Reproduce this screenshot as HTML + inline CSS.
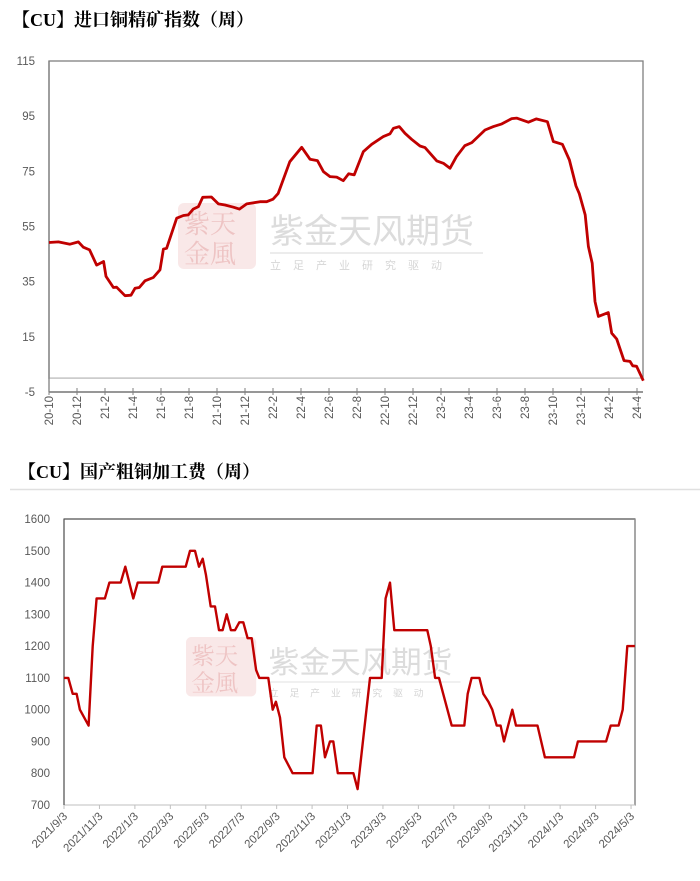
<!DOCTYPE html>
<html><head><meta charset="utf-8">
<style>
body{margin:0;background:#fff;width:700px;height:881px;overflow:hidden;}
svg{display:block;font-family:"Liberation Sans","Noto Sans CJK SC",sans-serif;}
.title{font-family:"Liberation Serif","Noto Serif CJK SC",serif;font-weight:bold;font-size:18px;fill:#000;}
.tick{font-size:11.5px;fill:#595959;}
</style></head>
<body>
<svg id="svg" width="700" height="881" viewBox="0 0 700 881">
  <text class="title" x="12" y="26">【CU】进口铜精矿指数（周）</text>
  <text class="title" x="18" y="478">【CU】国产粗铜加工费（周）</text>
  <line x1="10" y1="489.5" x2="700" y2="489.5" stroke="#e0e0e0" stroke-width="1.5"/>
  <g id="c1"></g>
  <g id="c2"></g>
</svg>
<script>
// Chart 1: imported copper concentrate index (x in months from 2020-10)
const c1Months=[0,0.67,1.5,2.1,2.45,2.9,3.4,3.9,4.07,4.6,4.83,5.43,5.86,6.14,6.45,6.86,7.45,7.93,8.17,8.4,9.12,9.6,9.95,10.3,10.67,10.98,11.6,12.1,12.57,13.17,13.6,14.12,15.07,15.55,16,16.37,17.2,18.05,18.64,19.17,19.6,20.07,20.55,21.02,21.4,21.8,22.45,23.05,23.88,24.36,24.6,25.02,25.43,25.9,26.5,26.86,27.7,28.17,28.64,29.1,29.7,30.2,31.14,31.74,32.34,33.05,33.4,34.24,34.8,35.6,36.02,36.67,37.17,37.64,37.88,38.3,38.53,38.8,39,39.24,39.95,40.19,40.55,41.07,41.5,41.69,41.97,42.45];
const c1Values=[49.2,49.4,48.6,49.4,47.5,46.5,41,42.3,36.9,32.9,33,29.9,30.1,32.6,32.9,35.3,36.5,39.3,46.8,47.1,58,59,59.2,61.3,62.2,65.6,65.7,63.2,62.8,62,61.3,63.2,64,64,64.9,67,78.5,83.7,79.4,78.9,74.9,73.1,72.9,71.6,74.1,73.7,82.1,84.8,87.6,88.6,90.6,91.2,88.8,86.6,84.2,83.6,78.8,77.9,76.1,80.3,84.3,85.4,90,91.2,92.2,94.1,94.3,92.8,94,93,85.8,84.8,79.1,69.7,66.9,59.2,47.7,41.7,27.8,22.4,23.8,16.3,14.2,6.4,6.1,4.5,4.3,-0.9];
const c1YTicks=[115,95,75,55,35,15,-5];
const c1XTicks=["20-10","20-12","21-2","21-4","21-6","21-8","21-10","21-12","22-2","22-4","22-6","22-8","22-10","22-12","23-2","23-4","23-6","23-8","23-10","23-12","24-2","24-4"];

// Chart 2: domestic blister copper processing fee (x in months from 2021/9/3)
const c2Months=[0,0.24,0.49,0.71,0.9,1.39,1.62,1.84,2.31,2.56,3.2,3.46,3.91,4.16,5.32,5.55,6.87,7.11,7.39,7.62,7.83,8.01,8.28,8.52,8.75,8.95,9.18,9.42,9.65,9.89,10.12,10.36,10.59,10.84,11.02,11.53,11.78,11.96,12.19,12.43,12.9,14.03,14.26,14.5,14.73,15.01,15.2,15.45,16.33,16.57,17.27,17.93,18.15,18.4,18.64,20.5,20.7,20.94,21.16,21.4,21.88,22.59,22.78,23.0,23.44,23.66,23.95,24.17,24.42,24.64,24.83,25.3,25.51,26.72,27.14,28.78,29.0,30.59,30.85,31.3,31.53,31.79,32.22];
const c2Values=[1100,1100,1050,1050,1000,950,1200,1350,1350,1400,1400,1450,1350,1400,1400,1450,1450,1500,1500,1450,1475,1425,1325,1325,1250,1250,1300,1250,1250,1275,1275,1225,1225,1125,1100,1100,1000,1025,975,850,800,800,950,950,850,900,900,800,800,750,1100,1100,1350,1400,1250,1250,1200,1100,1100,1050,950,950,1050,1100,1100,1050,1025,1000,950,950,900,1000,950,950,850,850,900,900,950,950,1000,1200,1200];
const c2YTicks=[1600,1500,1400,1300,1200,1100,1000,900,800,700];
const c2XTicks=["2021/9/3","2021/11/3","2022/1/3","2022/3/3","2022/5/3","2022/7/3","2022/9/3","2022/11/3","2023/1/3","2023/3/3","2023/5/3","2023/7/3","2023/9/3","2023/11/3","2024/1/3","2024/3/3","2024/5/3"];

const NS="http://www.w3.org/2000/svg";
function mk(parent,tag,attrs){const e=document.createElementNS(NS,tag);for(const k in attrs)e.setAttribute(k,attrs[k]);parent.appendChild(e);return e;}

function watermark(g,x,y,s){
  const w=document.createElementNS(NS,'g');
  
  
  w.setAttribute('transform',`translate(${x},${y}) scale(${s})`);
  g.appendChild(w);
  mk(w,'rect',{x:0,y:0,width:78,height:66,rx:6,fill:'#f7dede',opacity:0.7});
  const t1=mk(w,'text',{x:6,y:30,'font-size':26,fill:'#eec4c4','font-family':'"Noto Serif CJK SC",serif'});t1.textContent='紫天';
  const t2=mk(w,'text',{x:6,y:60,'font-size':26,fill:'#eec4c4','font-family':'"Noto Serif CJK SC",serif'});t2.textContent='金風';
  const t3=mk(w,'text',{x:92,y:40,'font-size':34,fill:'#dcdcdc'});t3.textContent='紫金天风期货';
  mk(w,'line',{x1:92,y1:50,x2:305,y2:50,stroke:'#e6e6e6','stroke-width':1.5});
  const t4=mk(w,'text',{x:92,y:66,'font-size':11,fill:'#d6d6d6','letter-spacing':'12'});t4.textContent='立足产业研究驱动';
}

// ---- Chart 1
(function(){
  const g=document.getElementById('c1');
  const L=49,R=643,T=61,yMin=-5,yMax=115,B=392;
  const ys=v=>T+(yMax-v)*(B-T)/(yMax-yMin);
  const xs=m=>L+m*14;
  watermark(g,178,203,1);
  mk(g,'rect',{x:L,y:T,width:R-L,height:ys(0)-T,fill:'none',stroke:'#7f7f7f','stroke-width':1.3});
  mk(g,'line',{x1:L,y1:ys(0),x2:R,y2:ys(0),stroke:'#d9d9d9','stroke-width':1});
  mk(g,'line',{x1:L,y1:B,x2:R,y2:B,stroke:'#595959','stroke-width':1.3});
  mk(g,'line',{x1:L,y1:T,x2:L,y2:B,stroke:'#7f7f7f','stroke-width':1.3});
  c1YTicks.forEach(v=>{
    const t=mk(g,'text',{x:35,y:ys(v)+4,'text-anchor':'end',class:'tick'});
    
    
    t.textContent=v;
  });
  c1XTicks.forEach((lab,i)=>{
    const x=xs(i*2);
    mk(g,'line',{x1:x,y1:B-4,x2:x,y2:B+3,stroke:'#7f7f7f'});
    const t=mk(g,'text',{x:0,y:0,'text-anchor':'end',class:'tick',transform:`translate(${x+4},${B+4}) rotate(-90)`});
    
    
    t.textContent=lab;
  });
  const d=c1Months.map((m,i)=>(i?'L':'M')+xs(m).toFixed(1)+','+ys(c1Values[i]).toFixed(1)).join(' ');
  const p=mk(g,'path',{d,fill:'none',stroke:'#c00000','stroke-width':2.8,'stroke-linejoin':'round'});
  
  
})();

// ---- Chart 2
(function(){
  const g=document.getElementById('c2');
  const L=64,R=635,T=519,B=805,yMin=700,yMax=1600;
  const ys=v=>T+(yMax-v)*(B-T)/(yMax-yMin);
  const xs=m=>L+m*17.72;
  watermark(g,186,637,0.9);
  mk(g,'rect',{x:L,y:T,width:R-L,height:B-T,fill:'none',stroke:'#262626','stroke-width':1});
  mk(g,'line',{x1:R,y1:T,x2:R,y2:B,stroke:'#8a8a8a','stroke-width':1.5});
  mk(g,'line',{x1:L,y1:B,x2:R,y2:B,stroke:'#bfbfbf','stroke-width':1});
  mk(g,'line',{x1:L,y1:T,x2:L,y2:B,stroke:'#595959','stroke-width':1.3});
  c2YTicks.forEach(v=>{
    const t=mk(g,'text',{x:50,y:ys(v)+4,'text-anchor':'end',class:'tick'});
    
    
    t.textContent=v;
  });
  c2XTicks.forEach((lab,i)=>{
    const x=xs(i*2);
    mk(g,'line',{x1:x,y1:B,x2:x,y2:B+4,stroke:'#bfbfbf'});
    const t=mk(g,'text',{x:0,y:0,'text-anchor':'end',class:'tick',transform:`translate(${x+4},${B+12}) rotate(-45)`});
    
    
    t.textContent=lab;
  });
  const d=c2Months.map((m,i)=>(i?'L':'M')+xs(m).toFixed(1)+','+ys(c2Values[i]).toFixed(1)).join(' ');
  const p=mk(g,'path',{d,fill:'none',stroke:'#c00000','stroke-width':2.4,'stroke-linejoin':'round'});
  
  
})();
</script>
</body></html>
